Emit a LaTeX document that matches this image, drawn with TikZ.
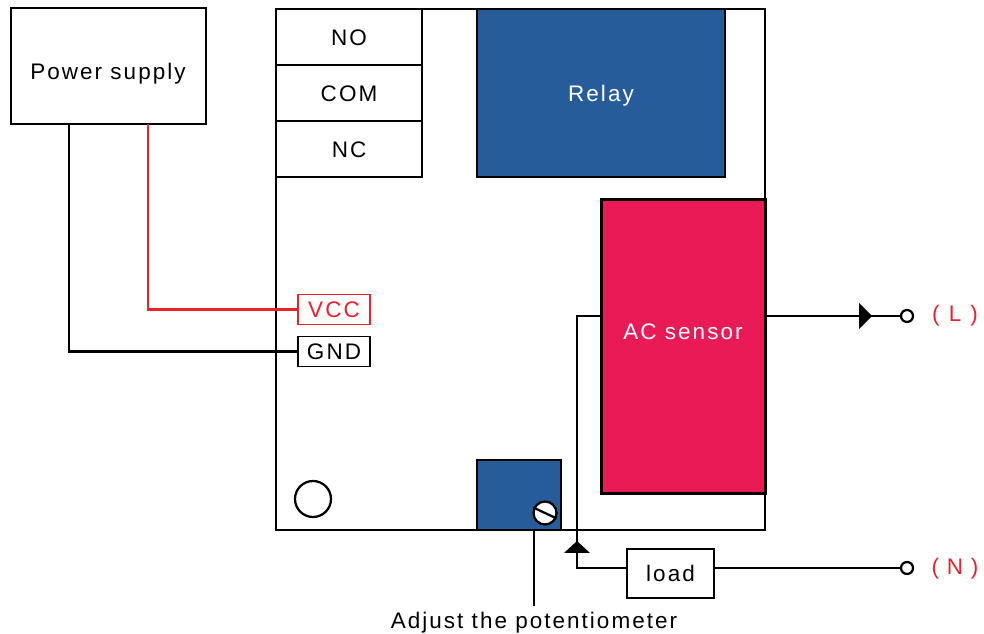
\documentclass[tikz,border=0pt]{standalone}
\usepackage{fontspec}
\setmainfont{Liberation Sans}[LetterSpace=9]
\definecolor{relayblue}{HTML}{255C99}
\definecolor{sensorred}{HTML}{E91A55}
\definecolor{wirered}{HTML}{E8212B}
\tikzset{
  wire/.style={line width=.045cm},
  lbl/.style={font=\fontsize{12.8}{14}\selectfont,inner sep=0pt},
  box/.style={draw,line width=.03cm,lbl,text depth=0pt,minimum width=#1*.02cm,inner sep=0pt},
  box/.default=146,
  lowtext/.style={text height=10.2pt}
}
\begin{document}
\begin{tikzpicture}[x=.02cm,y=-.02cm]
\useasboundingbox(0,0)rectangle(984,634);
\node[box=195,minimum height=2.32cm](power)at(108.5,66){};
\node[lbl](powertext)at(108,74){Power supply};
\node[draw,wire,minimum width=9.78cm,minimum height=10.42cm](board)at(520.5,269.5){};
\node[box,lowtext,minimum height=1.12cm](no)at(349,37){NO};
\node[box,lowtext,minimum height=1.12cm](com)at(349,93){COM};
\node[box,lowtext,minimum height=1.12cm](nc)at(349,149){NC};
\node[box=248,fill=relayblue,text=white,minimum height=3.36cm](relay)at(601,93){Relay};
\node[box=164,draw=black,line width=.06cm,fill=sensorred,minimum height=5.9cm](sensor)at(683,346.5){};
\node[lbl,text=white](sensortext)at(683,332){AC sensor};
\node[box=72,draw=wirered,text=wirered,minimum height=.6cm](vcc)at(334,309.5){VCC};
\node[box=72,minimum height=.6cm](gnd)at(334,351.5){GND};
\node[box=84,fill=relayblue,minimum height=1.4cm](pot)at(519,495){};
\node[circle,draw,fill=white,wire,minimum size=.46cm,inner sep=0pt](screw)at(545,513){};
\draw[wire](screw.155)--(screw.335);
\node[circle,draw,wire,minimum size=.72cm,inner sep=0pt](hole)at(313,499){};
\node[box=87,line width=.04cm,minimum height=.98cm](load)at(670.5,573.5){load};
\node[circle,draw,wire,minimum size=.24cm,inner sep=0pt](termL)at(907,316){};
\node[circle,draw,wire,minimum size=.24cm,inner sep=0pt](termN)at(907,568){};
\node[lbl,text=wirered](L)at(955,316){(\hspace{.41em}L\hspace{.41em})};
\node[lbl,text=wirered](N)at(955,569){(\hspace{.35em}N\hspace{.35em})};
\node[lbl](adjust)at(534,623){Adjust the potentiometer};
% wires
\coordinate(redtop)at(148,124);
\coordinate(blacktop)at(69,124);
\coordinate(sensorL)at(765,316);
\coordinate(sensorN)at(601,316);
\coordinate(loadL)at(627,568);
\coordinate(loadR)at(714,568);
\coordinate(potbase)at(534,530);
\coordinate(adjtop)at(534,606);
\draw[wire,wirered](redtop)|-(vcc.west);
\draw[wire](blacktop)|-(gnd.west);
\draw[wire](sensorL)--(termL.west);
\draw[wire](sensorN)-|(577,568)--(loadL);
\draw[wire](loadR)--(termN.west);
\draw[wire](potbase)--(adjtop);
% arrow heads
\fill(859,303)--(872,316)--(859,329)--cycle;
\fill(564,553)--(577,541)--(590,553)--cycle;
\end{tikzpicture}
\end{document}
